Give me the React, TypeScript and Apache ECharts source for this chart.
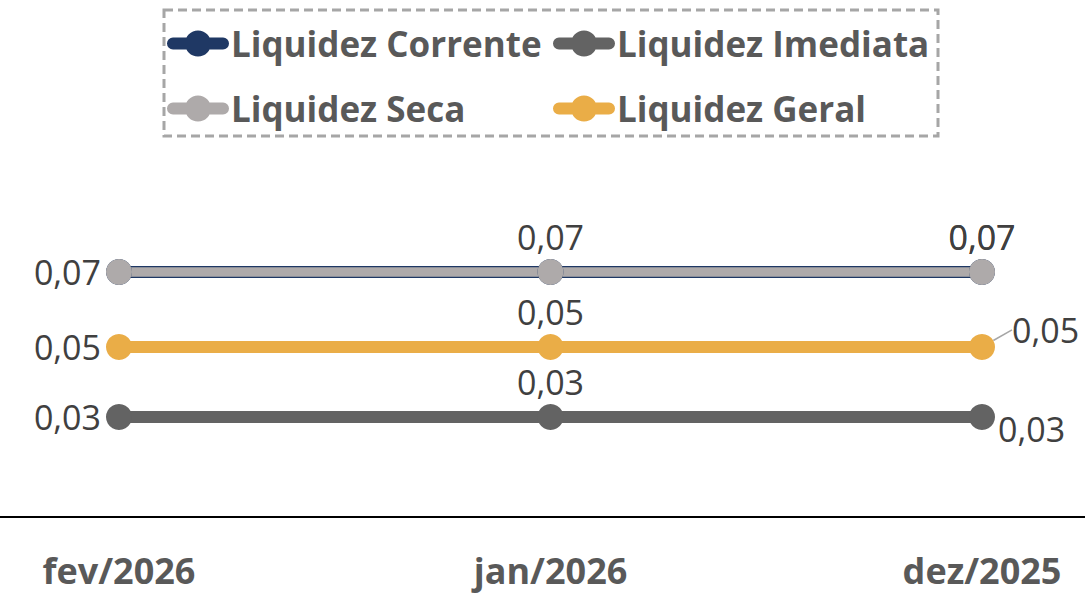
import React, { useEffect, useRef } from "react";
import * as echarts from "echarts";

const categories = ["fev/2026", "jan/2026", "dez/2025"];
const seriesNames = ["Liquidez Corrente", "Liquidez Imediata", "Liquidez Seca", "Liquidez Geral"];
const correnteValues = [0.07, 0.07, 0.07];
const imediataValues = [0.0286, 0.0286, 0.0286];
const secaValues = [0.07, 0.07, 0.07];
const geralValues = [0.0486, 0.0486, 0.0486];
const colors = ["#1F3864", "#636363", "#AEAAAA", "#EAAD47"];

const FONT = "'Open Sans', 'Noto Sans', sans-serif";
const ICON =
  "path://M6,7 H56 A6,6 0 0 1 56,19 H6 A6,6 0 0 1 6,7 Z M31,0 A13,13 0 1 1 31,26 A13,13 0 1 1 31,0 Z";

const fmt = (v: number) => v.toFixed(2).replace(".", ",");

const labelBase = {
  show: true,
  fontFamily: FONT,
  fontSize: 34,
  color: "#404040",
  formatter: (p: any) => fmt(p.value),
};

function items(values: number[], lastLabel: any, showOthers = true, lastExtra: any = {}) {
  return values.map((v, i) => {
    if (i === 0) return { value: v, label: { show: showOthers, position: "left" } };
    if (i === 1) return { value: v, label: { show: showOthers, position: "top" } };
    return { value: v, label: lastLabel, ...lastExtra };
  });
}

export default function App() {
  const ref = useRef<HTMLDivElement>(null);
  useEffect(() => {
    document.body.style.margin = "0";
    const chart = echarts.init(ref.current!, null, { renderer: "svg" });
    const legendCommon = {
      icon: ICON,
      itemWidth: 62,
      itemHeight: 26,
      padding: 0,
      textStyle: { fontFamily: FONT, fontSize: 35, fontWeight: "bold", color: "#595959", padding: [0, 0, 0, -3] },
      selectedMode: false,
    };
    const lineSeries = (idx: number, width: number, data: any[], extra: any = {}) => ({
      name: seriesNames[idx],
      type: "line",
      data,
      symbol: "circle",
      symbolSize: 26,
      color: colors[idx],
      lineStyle: { width, color: colors[idx] },
      itemStyle: { color: colors[idx] },
      label: labelBase,
      ...extra,
    });
    chart.setOption({
      animation: false,
      grid: { left: 119, right: 103, top: 167, bottom: 76 },
      legend: [
        { ...legendCommon, data: [seriesNames[0]], left: 167, top: 26 },
        { ...legendCommon, data: [seriesNames[1]], left: 553, top: 26 },
        { ...legendCommon, data: [seriesNames[2]], left: 167, top: 91 },
        { ...legendCommon, data: [seriesNames[3]], left: 553, top: 91 },
      ],
      graphic: [
        {
          type: "rect",
          shape: { x: 164, y: 10, width: 774, height: 126 },
          style: { fill: "none", stroke: "#A6A6A6", lineWidth: 3, lineDash: [9, 5] },
          silent: true,
        },
        {
          type: "line",
          shape: { x1: 0, y1: 517, x2: 1085, y2: 517 },
          style: { stroke: "#000000", lineWidth: 2 },
          silent: true,
        },
      ],
      xAxis: {
        type: "category",
        data: categories,
        boundaryGap: false,
        axisLine: { show: false },
        axisTick: { show: false },
        axisLabel: {
          fontFamily: FONT,
          fontSize: 36,
          lineHeight: 36,
          fontWeight: "bold",
          color: "#595959",
          margin: 35,
        },
        splitLine: { show: false },
      },
      yAxis: {
        type: "value",
        min: 0,
        max: 0.1,
        show: false,
        splitLine: { show: false },
      },
      series: [
        lineSeries(0, 12, items(correnteValues, { show: true, position: "top" }, false)),
        lineSeries(1, 12, items(imediataValues, { show: true, position: "right", offset: [-2, 12] })),
        lineSeries(2, 9.5, items(secaValues, { show: true, position: "top" })),
        lineSeries(
          3,
          12,
          items(geralValues, { show: true, position: "right" }, true, {
            labelLine: { show: true, lineStyle: { color: "#A6A6A6", width: 1.5 } },
          }),
          {
            labelLine: { show: false },
            labelLayout: (p: any) => (p.dataIndex === 2 ? { dx: 12, dy: -17 } : {}),
          }
        ),
      ],
    });
    return () => chart.dispose();
  }, []);
  return <div ref={ref} style={{ width: 1085, height: 593 }} />;
}
